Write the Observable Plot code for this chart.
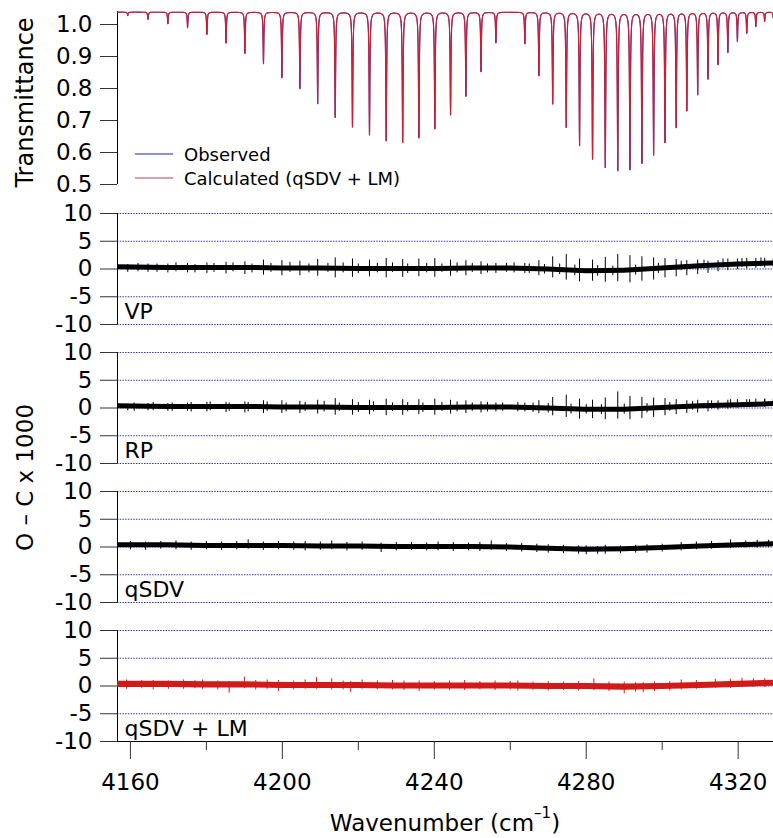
<!DOCTYPE html>
<html><head><meta charset="utf-8">
<script src="https://cdn.jsdelivr.net/npm/d3@7"></script>
<script src="https://cdn.jsdelivr.net/npm/@observablehq/plot@0.6"></script>
<style>
body{margin:0;background:#fff;}
#fig{position:relative;width:773px;height:838px;font-family:"DejaVu Sans",sans-serif;overflow:hidden;background:#fff;}
#fig > .p{position:absolute;left:0;}
#fig svg{display:block;}
</style></head><body><div id="fig"></div>
<script>
// ---------- DATA ----------
// CO line positions (cm-1), ascending: P(22)..P(1), R(0)..R(22)
const linePos = [4159.30,4164.62,4169.86,4175.05,4180.14,4185.18,4190.14,4195.03,4199.88,4204.62,4209.30,4213.92,4218.46,4222.94,4227.34,4231.68,4235.94,4240.14,4244.28,4248.32,4252.30,4256.22,
 4263.84,4267.54,4271.17,4274.74,4278.24,4281.66,4285.02,4288.30,4291.51,4294.66,4297.74,4300.74,4303.68,4306.48,4309.34,4312.06,4314.70,4317.28,4319.80,4322.26,4324.65,4326.98,4329.24];
// transmittance at line centres
const lineMin = [1.028,1.016,1.002,0.990,0.969,0.942,0.910,0.878,0.834,0.800,0.753,0.710,0.680,0.655,0.637,0.632,0.646,0.674,0.718,0.776,0.853,0.943,
 0.940,0.840,0.752,0.679,0.622,0.580,0.554,0.544,0.547,0.567,0.593,0.632,0.679,0.731,0.781,0.830,0.875,0.913,0.948,0.973,0.994,1.010,1.021];
const baseline = 1.0385;
const lineHWHM = 0.11;

// residual drift (x1000) sampled along wavenumber
const driftX = [4156.6,4170,4180,4190,4200,4210,4220,4230,4240,4250,4260,4270,4280,4290,4300,4310,4320,4329.3];
const vpCenter   = [0.3,0.2,0.2,0.2,0.1,0.1,0.0,0.0,0.0,0.1,0.1,-0.1,-0.4,-0.3,0.1,0.5,0.8,1.0];
const rpCenter   = [0.3,0.2,0.2,0.2,0.1,0.1,0.0,0.0,0.0,0.1,0.1,-0.1,-0.3,-0.3,0.0,0.3,0.5,0.7];
const qsdvCenter = [0.3,0.3,0.2,0.2,0.2,0.1,0.1,0.0,0.0,0.0,-0.1,-0.3,-0.5,-0.4,-0.2,0.1,0.3,0.5];
const lmCenter   = [0.3,0.3,0.2,0.2,0.1,0.1,0.1,0.0,0.0,0.0,0.0,-0.1,-0.1,-0.2,-0.1,0.1,0.3,0.5];
const noiseHalf = {VP:0.45, RP:0.45, qSDV:0.45, LM:0.55};

// systematic residual spikes at each line (max / min, x1000)
const vpHi = [0.8,0.9,0.9,1.0,1.1,1.2,1.3,1.6,1.5,1.4,1.7,2.0,1.8,1.6,1.9,1.7,1.8,1.9,1.6,1.5,1.3,1.0,
 1.0,1.5,2.2,2.6,1.8,1.6,2.1,2.6,2.4,2.2,2.0,1.9,1.7,1.5,1.6,1.4,1.5,1.8,1.8,1.9,1.9,1.9,1.9];
const vpLo = [-0.6,-0.6,-0.7,-0.7,-0.8,-0.9,-1.0,-1.1,-1.2,-1.2,-1.3,-1.6,-1.5,-1.4,-1.6,-1.5,-1.4,-1.5,-1.3,-1.2,-1.0,-0.8,
 -0.8,-1.2,-1.6,-2.0,-2.3,-2.2,-2.4,-2.3,-2.5,-2.2,-2.0,-1.6,-1.4,-1.2,-1.0,-0.8,-0.5,-0.3,-0.1,0.0,0.1,0.2,0.3];
const rpHi = [0.7,0.8,0.8,0.9,1.0,1.0,1.1,1.3,1.3,1.2,1.4,1.7,1.5,1.4,1.6,1.5,1.5,1.6,1.4,1.3,1.1,0.9,
 0.9,1.3,1.9,2.3,1.6,1.4,1.8,2.9,2.1,1.9,1.8,1.7,1.5,1.3,1.4,1.3,1.3,1.4,1.5,1.5,1.6,1.5,1.6];
const rpLo = [-0.5,-0.5,-0.6,-0.6,-0.7,-0.8,-0.9,-1.0,-1.0,-1.0,-1.1,-1.3,-1.3,-1.2,-1.4,-1.3,-1.2,-1.3,-1.1,-1.0,-0.9,-0.7,
 -0.7,-1.0,-1.4,-1.7,-2.0,-1.9,-2.1,-2.0,-2.1,-1.9,-1.7,-1.4,-1.2,-1.0,-0.9,-0.7,-0.4,-0.2,0.0,0.1,0.1,0.2,0.2];

// smaller noise excursions seen along each trace (x, max, min)
const vpNoiseX  = [4162,4167,4172,4177,4182,4187,4192,4197,4202,4207,4212,4216,4220,4225,4229,4233,4238,4242,4246,4250,4254,4259,4261,4265,4269,4273,4277,4283,4287,4293,4299,4305,4311,4316,4321,4326];
const vpNoiseHi = [1.0,0.9,1.1,0.8,1.0,1.1,0.9,1.0,1.2,0.9,1.0,1.1,0.9,1.0,1.1,0.9,1.0,0.9,1.1,1.0,0.9,1.0,1.1,0.9,0.8,0.9,0.7,0.6,0.5,0.7,1.0,1.4,1.6,1.8,1.9,2.0];
const vpNoiseLo = [-0.5,-0.6,-0.5,-0.7,-0.6,-0.5,-0.7,-0.6,-0.6,-0.7,-0.6,-0.7,-0.8,-0.7,-0.6,-0.8,-0.7,-0.6,-0.7,-0.6,-0.7,-0.6,-0.7,-0.8,-0.9,-1.0,-1.2,-1.3,-1.2,-1.1,-0.8,-0.3,0.0,0.2,0.3,0.4];
const rpNoiseX  = [4161,4166,4171,4176,4181,4186,4191,4196,4201,4206,4211,4215,4220,4224,4229,4233,4237,4242,4246,4250,4254,4258,4262,4266,4270,4276,4280,4284,4290,4296,4302,4308,4313,4318,4323,4327];
const rpNoiseHi = [0.9,1.0,0.9,1.0,1.1,0.9,1.0,1.1,0.9,1.0,1.2,0.9,1.0,1.1,0.9,1.0,0.9,1.0,1.1,0.9,1.0,0.9,1.0,0.9,0.8,0.7,0.6,0.6,0.7,0.8,1.0,1.2,1.3,1.5,1.5,1.6];
const rpNoiseLo = [-0.6,-0.5,-0.6,-0.7,-0.5,-0.6,-0.7,-0.6,-0.7,-0.6,-0.7,-0.6,-0.8,-0.7,-0.6,-0.7,-0.8,-0.6,-0.7,-0.6,-0.7,-0.6,-0.7,-0.8,-0.9,-1.1,-1.1,-1.2,-1.1,-0.9,-0.6,-0.4,-0.2,0.0,0.1,0.1];
const qsdvNoiseX  = [4160,4164,4168,4172,4176,4180,4184,4188,4191,4195,4199,4203,4206,4210,4213,4217,4221,4226,4230,4234,4238,4241,4245,4249,4252,4255,4259,4263,4267,4270,4274,4278,4280,4283,4285,4289,4293,4296,4300,4305,4309,4313,4318,4322,4325,4328];
const qsdvNoiseHi = [1.0,0.9,1.0,1.1,0.9,1.0,0.9,1.0,1.3,0.9,1.0,0.9,1.0,0.9,1.1,0.8,0.9,0.7,0.8,0.8,0.7,0.9,0.8,0.7,0.8,1.1,0.6,0.6,0.5,0.4,0.3,0.2,0.2,0.1,0.3,0.2,0.3,0.4,0.5,0.8,0.9,1.0,1.3,1.1,1.2,1.2];
const qsdvNoiseLo = [-0.5,-0.6,-0.4,-0.5,-0.6,-0.5,-0.6,-0.5,-0.4,-0.6,-0.5,-0.6,-0.7,-0.6,-0.5,-0.7,-0.6,-1.0,-0.7,-0.6,-0.7,-0.7,-0.8,-0.7,-0.8,-0.6,-0.8,-0.9,-1.0,-1.1,-1.2,-1.3,-1.4,-1.3,-1.3,-1.2,-1.1,-1.1,-0.9,-0.7,-0.5,-0.4,-0.3,-0.2,-0.2,-0.1];
const lmNoiseX  = [4159,4163,4166,4170,4174,4177,4179,4183,4186,4190,4193,4196,4199,4203,4206,4209,4213,4216,4218,4221,4225,4229,4232,4236,4240,4244,4248,4252,4256,4260,4262,4266,4270,4274,4278,4282,4286,4290,4293,4295,4298,4302,4305,4309,4314,4318,4321,4324,4327];
const lmNoiseHi = [1.1,1.0,1.0,0.9,1.1,1.0,1.1,0.9,0.8,1.6,1.0,1.1,1.0,0.9,1.1,1.5,1.3,0.9,0.8,1.1,0.9,1.0,0.9,0.9,0.8,0.9,1.0,0.8,0.9,0.8,0.9,0.7,0.8,0.7,0.8,1.3,0.7,0.7,0.6,0.6,0.7,0.8,1.1,1.0,1.2,1.2,1.4,1.3,1.3];
const lmNoiseLo = [-0.6,-0.5,-0.7,-0.6,-0.6,-0.5,-0.6,-0.7,-1.3,-0.5,-0.7,-0.6,-1.0,-0.7,-0.6,-0.6,-0.7,-0.7,-1.2,-0.6,-0.7,-0.7,-0.8,-1.0,-0.7,-0.8,-0.8,-0.7,-0.8,-0.7,-0.9,-0.8,-0.9,-0.8,-0.9,-0.8,-1.0,-1.4,-1.1,-1.2,-1.0,-0.9,-0.7,-0.6,-0.4,-0.4,-0.3,-0.2,-0.3];

const xTicks = [4160,4200,4240,4280,4320];
const xMinor = [4180,4220,4260,4300];
const yTicksTop = [0.5,0.6,0.7,0.8,0.9,1.0];
const yTicksRes = [-10,-5,0,5,10];
const gridRes = [10,5,0,-5,-10];

// ---------- BUILD ----------
const X0 = 4156.6, X1 = 4329.3, W = 773, ML = 117;
const FONT = "'DejaVu Sans', sans-serif";
const fig = document.getElementById("fig");

// spectrum from the line list (Lorentzian lines on the read baseline)
const absorb = lineMin.map(t => Math.log(baseline / t));
const grid = d3.range(X0, X1, 0.04).concat(linePos).sort((a, b) => a - b);
const spec = grid.map(nu => {
  let a = 0;
  for (let i = 0; i < linePos.length; i++) {
    const d = nu - linePos[i];
    a += absorb[i] * lineHWHM * lineHWHM / (d * d + lineHWHM * lineHWHM);
  }
  return {nu, t: baseline * Math.exp(-a)};
});

function place(el, topPx) {
  const d = document.createElement("div");
  d.className = "p"; d.style.top = topPx + "px";
  d.appendChild(el); fig.appendChild(d);
}

const topPanel = Plot.plot({
  width: W, height: 190, marginLeft: ML, marginRight: 0, marginTop: 11, marginBottom: 6,
  style: {fontFamily: FONT, fontSize: "23px", color: "#000", background: "transparent", overflow: "visible"},
  x: {domain: [X0, X1], axis: null},
  y: {domain: [0.5, 1.040625], axis: null},
  marks: [
    Plot.axisY({ticks: yTicksTop, tickSize: 17, tickPadding: 8, tickFormat: d => d.toFixed(1), label: null, stroke: "#333"}),
    Plot.ruleX([X0], {stroke: "#000", strokeWidth: 1}),
    Plot.lineY(spec, {x: "nu", y: "t", stroke: "#1a1ab8", strokeWidth: 1, clip: true}),
    Plot.lineY(spec, {x: "nu", y: "t", stroke: "#cc1f33", strokeWidth: 1.2, clip: true})
  ]
});
place(topPanel, 0);

function resPanel(name, label, center, spikeX, hiArr, loArr, nX, nHi, nLo, color, bottom, topPx) {
  const hw = noiseHalf[name];
  const band = driftX.map((x, i) => ({x, lo: center[i] - hw, hi: center[i] + hw}));
  const spikes = spikeX.map((x, i) => ({x, hi: hiArr[i], lo: loArr[i]}));
  const noise = nX.map((x, i) => ({x, hi: nHi[i], lo: nLo[i]}));
  const marks = [
    Plot.ruleY(gridRes, {stroke: "#3535c8", strokeWidth: 1, strokeDasharray: "1.5,1.2"}),
    Plot.ruleX([X0], {y1: -10, y2: 10, stroke: "#000"}),
    Plot.areaY(band, {x: "x", y1: "lo", y2: "hi", fill: color, clip: true}),
    Plot.ruleX(noise, {x: "x", y1: "lo", y2: "hi", stroke: color, strokeWidth: 1, clip: true}),
    Plot.ruleX(spikes, {x: "x", y1: "lo", y2: "hi", stroke: color, strokeWidth: 1, clip: true}),
    Plot.axisY({ticks: yTicksRes, tickSize: 17, tickPadding: 8, tickFormat: d => String(d), label: null, stroke: "#333"}),
    Plot.text([label], {frameAnchor: "bottom-left", dx: 7, dy: -6, textAnchor: "start", lineAnchor: "bottom", fontSize: 22})
  ];
  if (bottom) {
    marks.push(
      Plot.ruleY([-10], {stroke: "#000"}),
      Plot.axisX({ticks: xTicks, tickSize: 18, tickPadding: 14, tickFormat: d => String(d), label: null, stroke: "#333"}),
      Plot.axisX({ticks: xMinor, tickSize: 9, tickFormat: () => "", label: null, stroke: "#333"})
    );
  }
  const p = Plot.plot({
    width: W, height: bottom ? 218 : 131, marginLeft: ML, marginRight: 0, marginTop: 10, marginBottom: bottom ? 97 : 10,
    style: {fontFamily: FONT, fontSize: "23px", color: "#000", background: "transparent", overflow: "visible"},
    x: {domain: [X0, X1], axis: null},
    y: {domain: [-10, 10], axis: null},
    marks
  });
  place(p, topPx);
}

resPanel("VP", "VP", vpCenter, linePos, vpHi, vpLo, vpNoiseX, vpNoiseHi, vpNoiseLo, "#000", false, 203);
resPanel("RP", "RP", rpCenter, linePos, rpHi, rpLo, rpNoiseX, rpNoiseHi, rpNoiseLo, "#000", false, 342);
resPanel("qSDV", "qSDV", qsdvCenter, [], [], [], qsdvNoiseX, qsdvNoiseHi, qsdvNoiseLo, "#000", false, 481);
resPanel("LM", "qSDV + LM", lmCenter, [], [], [], lmNoiseX, lmNoiseHi, lmNoiseLo, "#d11a1a", true, 620);

// ---------- overlay text: axis titles & legend ----------
const ov = d3.select(fig).append("svg")
  .attr("width", W).attr("height", 838)
  .style("position", "absolute").style("left", 0).style("top", 0)
  .style("pointer-events", "none")
  .attr("font-family", FONT);
ov.append("text").attr("transform", "translate(33,102.5) rotate(-90)")
  .attr("text-anchor", "middle").attr("font-size", 24).text("Transmittance");
ov.append("text").attr("transform", "translate(33,477.5) rotate(-90)")
  .attr("text-anchor", "middle").attr("font-size", 23).text("O \u2013 C x 1000");
const xl = ov.append("text").attr("x", 445).attr("y", 831).attr("text-anchor", "middle").attr("font-size", 23);
xl.append("tspan").text("Wavenumber (cm");
xl.append("tspan").attr("dy", -13).attr("font-size", 15).text("\u20131");
xl.append("tspan").attr("dy", 13).text(")");

const legend = [{name: "Observed", color: "#2020c0", y: 154}, {name: "Calculated (qSDV + LM)", color: "#c8394a", y: 178}];
legend.forEach(l => {
  ov.append("line").attr("x1", 135).attr("x2", 173).attr("y1", l.y).attr("y2", l.y)
    .attr("stroke", l.color).attr("stroke-width", 1.2);
  ov.append("text").attr("x", 184).attr("y", l.y + 6.5).attr("font-size", 18).text(l.name);
});
</script></body></html>
